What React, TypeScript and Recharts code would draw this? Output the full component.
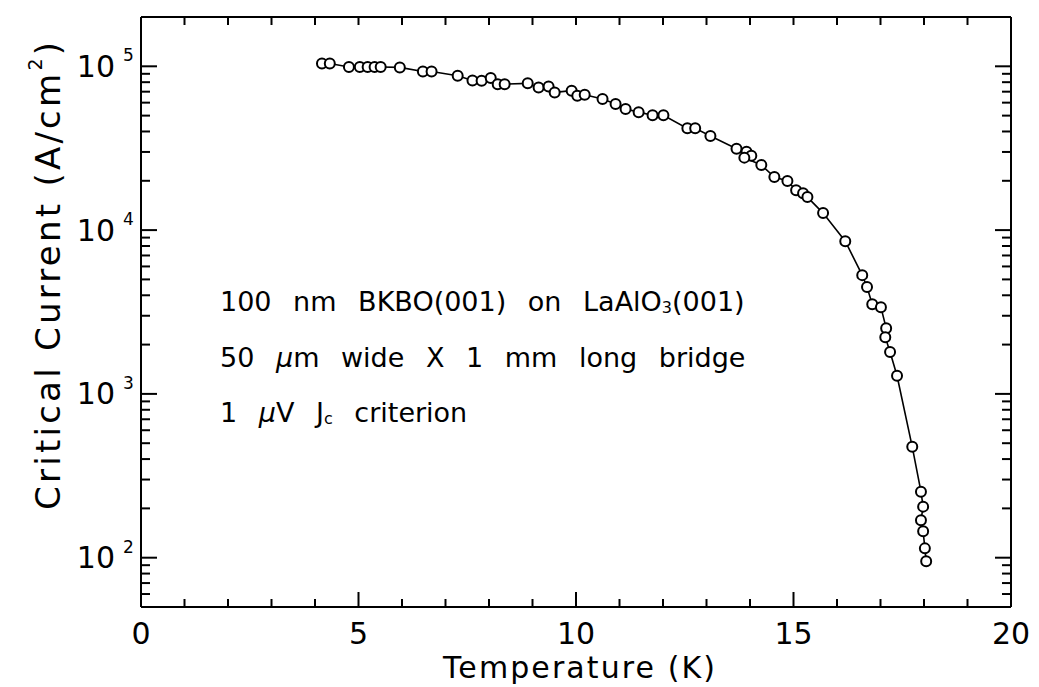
import { ComposedChart, Line, XAxis, YAxis } from "recharts";

// critical current density vs temperature
const temperatureK = [
  4.16, 4.34, 4.78, 5.03, 5.21, 5.37, 5.51, 5.95, 6.48, 6.68, 7.28, 7.62, 7.83, 8.04, 8.2, 8.36, 8.89, 9.14, 9.37,
  9.51, 9.9, 10.03, 10.2, 10.61, 10.91, 11.14, 11.44, 11.76, 12.01, 12.56, 12.74, 13.09, 13.69, 13.92, 14.03, 13.87,
  14.26, 14.56, 14.86, 15.06, 15.22, 15.32, 15.68, 16.19, 16.58, 16.69, 16.81, 17.01, 17.13, 17.11, 17.22, 17.38,
  17.73, 17.93, 17.98, 17.93, 17.98, 18.02, 18.05,
];
const criticalCurrent = [
  104000, 104000, 99000, 99000, 99000, 99000, 99000, 98500, 93000, 93000, 87500, 82000, 81500, 84800, 77800, 77800,
  78700, 74300, 75400, 69300, 71000, 66200, 67100, 63200, 58900, 54900, 52500, 50300, 50300, 41800, 41800, 37500,
  31400, 30100, 28400, 27700, 25000, 21100, 19950, 17500, 16800, 15900, 12700, 8550, 5310, 4490, 3530, 3380, 2520,
  2220, 1800, 1290, 475, 253, 205, 169, 145, 114, 95,
];

const xTicks = [0, 1, 2, 3, 4, 5, 6, 7, 8, 9, 10, 11, 12, 13, 14, 15, 16, 17, 18, 19, 20];
const xLabels = [0, 5, 10, 15, 20];
const yDecades = [100, 1000, 10000, 100000];
const yMinorSteps = [1, 2, 3, 4, 5, 6, 7, 8, 9];
const yTicks = [50, 60, 70, 80, 90, ...yDecades.flatMap((d) => yMinorSteps.map((m) => d * m))].filter(
  (v) => v <= 200000
);

const data = temperatureK.map((t, i) => ({ t, jc: criticalCurrent[i] }));

const FONT = "'DejaVu Sans', sans-serif";
const INK = "#000";

const isDecade = (v: number) => yDecades.includes(v);

function LeftTick({ x, y, payload }: any) {
  const v = payload.value;
  const major = isDecade(v);
  return (
    <g>
      <line x1={x} x2={x + (major ? 16 : 9)} y1={y} y2={y} stroke={INK} strokeWidth={2} />
      {major && (
        <>
          <text x={x - 26} y={y} textAnchor="end" dominantBaseline="central" fontSize={30} fontFamily={FONT} fill={INK}>
            10
          </text>
          <text x={x - 18} y={y - 11} dominantBaseline="central" fontSize={17} fontFamily={FONT} fill={INK}>
            {Math.round(Math.log10(v))}
          </text>
        </>
      )}
    </g>
  );
}

function RightTick({ x, y, payload }: any) {
  const major = isDecade(payload.value);
  return <line x1={x} x2={x - (major ? 16 : 9)} y1={y} y2={y} stroke={INK} strokeWidth={2} />;
}

function BottomTick({ x, y, payload }: any) {
  const v = payload.value;
  const major = xLabels.includes(v);
  return (
    <g>
      <line x1={x} x2={x} y1={y} y2={y - (major ? 15 : 8)} stroke={INK} strokeWidth={2} />
      {major && (
        <text x={x} y={y + 26} textAnchor="middle" dominantBaseline="central" fontSize={30} fontFamily={FONT} fill={INK}>
          {v}
        </text>
      )}
    </g>
  );
}

function TopTick({ x, y }: any) {
  return <line x1={x} x2={x} y1={y} y2={y + 8} stroke={INK} strokeWidth={2} />;
}

function Marker({ cx, cy }: any) {
  return <circle cx={cx} cy={cy} r={5} fill="#fff" stroke={INK} strokeWidth={2} />;
}

export default function App() {
  const axisLine = { stroke: INK, strokeWidth: 2 };
  return (
    <div style={{ position: "relative", width: 1039, height: 687, background: "#fff" }}>
      <style>{`body{margin:0}`}</style>
      <ComposedChart width={1039} height={687} data={data} margin={{ top: 16, right: 27, bottom: 0, left: 0 }}>
        <XAxis
          dataKey="t"
          type="number"
          domain={[0, 20]}
          ticks={xTicks}
          interval={0}
          height={80}
          axisLine={axisLine}
          tickLine={false}
          tickSize={0}
          tickMargin={0}
          tick={BottomTick}
        />
        <XAxis
          xAxisId="top"
          dataKey="t"
          orientation="top"
          type="number"
          domain={[0, 20]}
          ticks={xTicks}
          interval={0}
          height={1}
          axisLine={axisLine}
          tickLine={false}
          tickSize={0}
          tickMargin={0}
          tick={TopTick}
        />
        <YAxis
          scale="log"
          type="number"
          domain={[50, 200000]}
          allowDataOverflow
          ticks={yTicks}
          interval={0}
          width={141}
          axisLine={axisLine}
          tickLine={false}
          tickSize={0}
          tickMargin={0}
          tick={LeftTick}
        />
        <YAxis
          yAxisId="right"
          orientation="right"
          scale="log"
          type="number"
          domain={[50, 200000]}
          allowDataOverflow
          ticks={yTicks}
          interval={0}
          width={1}
          axisLine={axisLine}
          tickLine={false}
          tickSize={0}
          tickMargin={0}
          tick={RightTick}
        />
        {/* invisible twin series so the top and right frame axes get drawn */}
        <Line
          xAxisId="top"
          yAxisId="right"
          dataKey="jc"
          stroke="none"
          dot={false}
          activeDot={false}
          legendType="none"
          isAnimationActive={false}
        />
        <Line
          dataKey="jc"
          type="linear"
          stroke={INK}
          strokeWidth={1.6}
          dot={<Marker />}
          activeDot={false}
          isAnimationActive={false}
        />
      </ComposedChart>
      <svg
        width={1039}
        height={687}
        style={{ position: "absolute", left: 0, top: 0, pointerEvents: "none" }}
        fontFamily={FONT}
        fill={INK}
      >
        <text
          x={579}
          y={667}
          textAnchor="middle"
          dominantBaseline="central"
          fontSize={30}
          textLength={272}
          lengthAdjust="spacing"
        >
          Temperature (K)
        </text>
        <text
          x={48}
          y={276}
          textAnchor="middle"
          dominantBaseline="central"
          fontSize={34}
          textLength={468}
          lengthAdjust="spacing"
          transform="rotate(-90 48 276)"
        >
          Critical Current (A/cm
          <tspan fontSize={19} dy={-13}>
            2
          </tspan>
          <tspan dy={13}>)</tspan>
        </text>
        <g fontSize={27} style={{ wordSpacing: 13 }}>
          <text x={220} y={301} dominantBaseline="central">
            100 nm BKBO(001) on LaAlO
            <tspan fontSize={16} dy={6}>
              3
            </tspan>
            <tspan dy={-6}>(001)</tspan>
          </text>
          <text x={220} y={357} dominantBaseline="central">
            50 <tspan fontStyle="italic">μ</tspan>m wide X 1 mm long bridge
          </text>
          <text x={220} y={412} dominantBaseline="central">
            1 <tspan fontStyle="italic">μ</tspan>V J
            <tspan fontSize={16} dy={6}>
              c
            </tspan>
            <tspan dy={-6}> criterion</tspan>
          </text>
        </g>
      </svg>
    </div>
  );
}
